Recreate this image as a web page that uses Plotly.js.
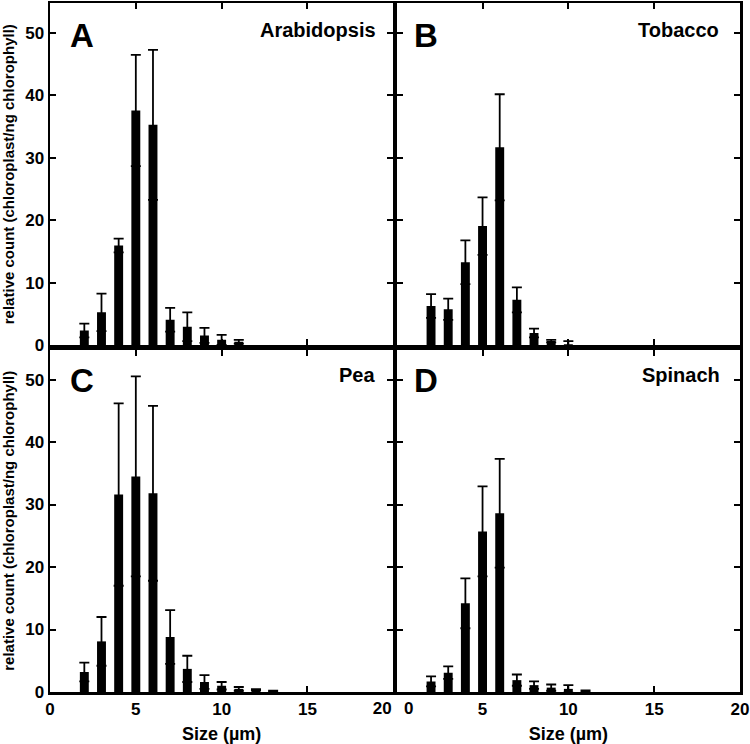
<!DOCTYPE html>
<html>
<head>
<meta charset="utf-8">
<script src="https://cdn.plot.ly/plotly-3.0.1.min.js"></script>
<style>
  html, body { margin: 0; padding: 0; background: #fff; }
  #chart { width: 750px; height: 744px; }
</style>
</head>
<body>
<div id="chart"></div>
<script>
// ---- Data ----
var panelLetters = ["A", "B", "C", "D"];
var speciesNames = ["Arabidopsis", "Tobacco", "Pea", "Spinach"];

var arabidopsisSize = [2, 3, 4, 5, 6, 7, 8, 9, 10, 11];
var arabidopsisCount = [2.4, 5.3, 16.0, 37.6, 35.3, 4.1, 3.0, 1.6, 0.9, 0.6];
var arabidopsisErr = [1.1, 3.0, 1.1, 8.9, 12.0, 1.9, 2.3, 1.2, 0.8, 0.3];

var tobaccoSize = [2, 3, 4, 5, 6, 7, 8, 9, 10];
var tobaccoCount = [6.3, 5.8, 13.3, 19.1, 31.7, 7.3, 2.0, 0.7, 0.2];
var tobaccoErr = [1.9, 1.7, 3.5, 4.6, 8.5, 2.0, 0.7, 0.2, 0.5];

var peaSize = [2, 3, 4, 5, 6, 7, 8, 9, 10, 11, 12, 13];
var peaCount = [3.2, 8.1, 31.6, 34.5, 31.8, 8.8, 3.7, 1.6, 1.0, 0.5, 0.35, 0.15];
var peaErr = [1.5, 3.9, 14.6, 16.0, 14.0, 4.3, 2.1, 1.1, 0.6, 0.3, 0.1, 0.05];

var spinachSize = [2, 3, 4, 5, 6, 7, 8, 9, 10, 11];
var spinachCount = [1.7, 3.1, 14.2, 25.7, 28.6, 1.9, 1.1, 0.7, 0.5, 0.15];
var spinachErr = [0.8, 1.0, 4.0, 7.2, 8.7, 0.9, 0.6, 0.5, 0.6, 0.1];

var xTickVals = [0, 5, 10, 15, 20];
var xTickLabels = ["0", "5", "10", "15", "20"];
var yTickVals = [0, 10, 20, 30, 40, 50];
var yTickLabels = ["0", "10", "20", "30", "40", "50"];
var xTitle = "Size (µm)";
var yTitle = "relative count (chloroplast/ng chlorophyll)";

// ---- Build traces ----
var FONT = "Liberation Sans, Arial, Helvetica, sans-serif";
function barTrace(x, y, err, xa, ya) {
  return {
    type: "bar", x: x, y: y, xaxis: xa, yaxis: ya,
    width: 0.52,
    marker: { color: "#000", line: { width: 0 } },
    error_y: { type: "data", array: err, visible: true, color: "#000", thickness: 1.8, width: 5 },
    showlegend: false, hoverinfo: "skip"
  };
}
// empty carrier traces so the overlay label axes get drawn
function carrier(xa, ya) {
  return { type: "scatter", mode: "markers", x: [], y: [], xaxis: xa, yaxis: ya,
           showlegend: false, hoverinfo: "skip" };
}
var data = [
  barTrace(arabidopsisSize, arabidopsisCount, arabidopsisErr, "x", "y"),
  barTrace(tobaccoSize, tobaccoCount, tobaccoErr, "x2", "y2"),
  barTrace(peaSize, peaCount, peaErr, "x3", "y3"),
  barTrace(spinachSize, spinachCount, spinachErr, "x4", "y4"),
  carrier("x5", "y3"),
  carrier("x6", "y4")
];

var tickFont = { family: FONT, size: 17, color: "#000", weight: "bold" };

function xAxis(domain, anchor, labels, withTitle) {
  var a = {
    domain: domain, anchor: anchor, range: [0, 20],
    tickvals: xTickVals, ticktext: xTickLabels,
    showticklabels: labels,
    ticks: "inside", ticklen: 6, tickwidth: 2, tickcolor: "#000",
    showline: true, linewidth: 2.5, linecolor: "#000", mirror: "ticks",
    showgrid: false, zeroline: false, fixedrange: true,
    tickfont: tickFont,
    ticklabelstandoff: 0
  };
  if (withTitle) {
    a.title = { text: xTitle, standoff: 10, font: { family: FONT, size: 18, color: "#000", weight: "bold" } };
  }
  return a;
}
// overlay axis carrying a single edge label, shifted sideways like the reference
function edgeLabelAxis(over, anchor, idx, shift) {
  return {
    overlaying: over, anchor: anchor, range: [0, 20], side: "bottom",
    tickvals: [xTickVals[idx]], ticktext: [xTickLabels[idx]],
    ticks: "", showline: false, showgrid: false, zeroline: false, fixedrange: true,
    tickfont: tickFont, ticklabelstandoff: 4, ticklabelshift: shift
  };
}
function yAxis(domain, anchor, labels, withTitle) {
  var a = {
    domain: domain, anchor: anchor, range: [0, 54.8],
    tickvals: yTickVals, ticktext: yTickLabels,
    showticklabels: labels,
    ticks: "inside", ticklen: 6, tickwidth: 2, tickcolor: "#000",
    showline: true, linewidth: 2.5, linecolor: "#000", mirror: "ticks",
    showgrid: false, zeroline: false, fixedrange: true,
    tickfont: tickFont
  };
  if (withTitle) {
    a.title = { text: yTitle, standoff: 8, font: { family: FONT, size: 15, color: "#000", weight: "bold" } };
  }
  return a;
}

var leftDom = [0, 0.4975], rightDom = [0.5025, 1];
var topDom = [0.503, 1], botDom = [0, 0.497];

var xa3 = xAxis(leftDom, "y3", true, true);
xa3.ticktext = xTickLabels.map(function (t, k) { return k === 4 ? "" : t; });
var xa4 = xAxis(rightDom, "y4", true, true);
xa4.ticktext = xTickLabels.map(function (t, k) { return k === 0 ? "" : t; });

var refs = [
  { xr: "x domain", yr: "y domain", lx: 0.052, ly: 0.906, nx: 0.955, ny: 0.921 },
  { xr: "x2 domain", yr: "y2 domain", lx: 0.045, ly: 0.906, nx: 0.945, ny: 0.921 },
  { xr: "x3 domain", yr: "y3 domain", lx: 0.052, ly: 0.911, nx: 0.952, ny: 0.926 },
  { xr: "x4 domain", yr: "y4 domain", lx: 0.045, ly: 0.911, nx: 0.948, ny: 0.926 }
];
var annotations = [];
for (var i = 0; i < 4; i++) {
  annotations.push({
    xref: refs[i].xr, yref: refs[i].yr,
    x: refs[i].lx, y: refs[i].ly, xanchor: "left", yanchor: "middle",
    text: panelLetters[i], showarrow: false,
    font: { family: FONT, size: 33, color: "#000", weight: "bold" }
  });
  annotations.push({
    xref: refs[i].xr, yref: refs[i].yr,
    x: refs[i].nx, y: refs[i].ny, xanchor: "right", yanchor: "middle",
    text: speciesNames[i], showarrow: false,
    font: { family: FONT, size: 20, color: "#000", weight: "bold" }
  });
}

var layout = {
  width: 750, height: 744,
  margin: { l: 50, r: 10, t: 3, b: 52 },
  paper_bgcolor: "#fff", plot_bgcolor: "#fff",
  font: { family: FONT, color: "#000" },
  showlegend: false,
  xaxis: xAxis(leftDom, "y", false, false),
  yaxis: yAxis(topDom, "x", true, true),
  xaxis2: xAxis(rightDom, "y2", false, false),
  yaxis2: yAxis(topDom, "x2", false, false),
  xaxis3: xa3,
  yaxis3: yAxis(botDom, "x3", true, true),
  xaxis4: xa4,
  yaxis4: yAxis(botDom, "x4", false, false),
  xaxis5: edgeLabelAxis("x3", "y3", 4, -11),
  xaxis6: edgeLabelAxis("x4", "y4", 0, 12),
  annotations: annotations
};

Plotly.newPlot("chart", data, layout, { displayModeBar: false, staticPlot: true });
</script>
</body>
</html>
